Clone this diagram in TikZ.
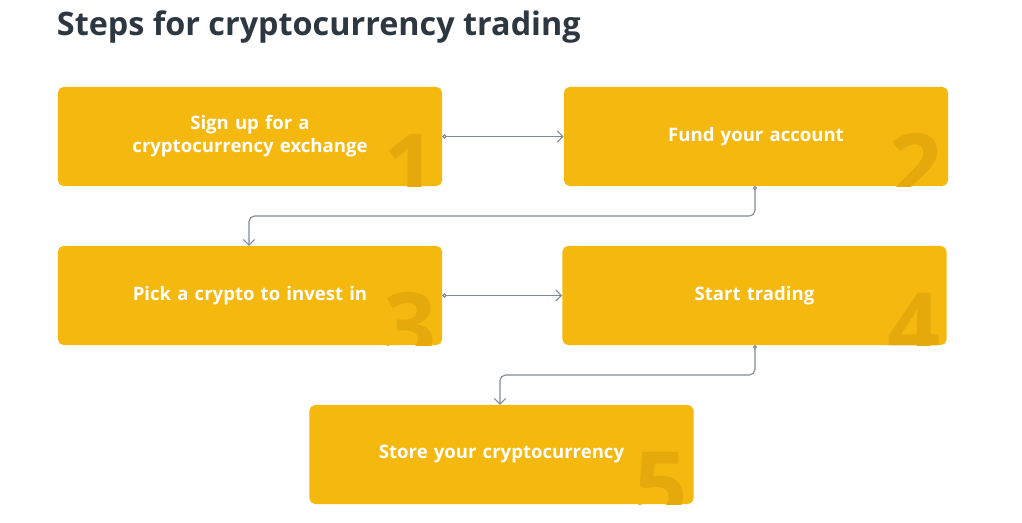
\documentclass[tikz,border=0pt]{standalone}
\usepackage{fontspec}
\setmainfont{Open Sans}
\usetikzlibrary{arrows.meta}
\hyphenpenalty=10000
\definecolor{gold}{RGB}{244,184,15}
\definecolor{golddark}{RGB}{228,170,12}
\definecolor{pfad}{RGB}{126,139,150}
\definecolor{titel}{RGB}{45,55,65}
\tikzset{
  stepbox/.style={fill=gold, rounded corners=4pt, minimum width=9.6cm, minimum height=2.475cm,
    text width=7.5cm, align=center, text=white, font=\bfseries\fontsize{13.2}{16.5}\selectfont},
  stepnum/.style={anchor=base east, text=golddark, inner sep=0pt, font=\bfseries\fontsize{66}{66}\selectfont},
  verbinder/.style={draw=pfad, thick, rounded corners=4pt, {Circle[open,fill=white,length=3pt]}-{Straight Barb[length=4pt]}}
}
\begin{document}
\begin{tikzpicture}[x=0.025cm, y=-0.025cm]
    \useasboundingbox (0,0) rectangle (1022,523);

    \node[anchor=west, text=titel, font=\bfseries\fontsize{23}{26}\selectfont] (title) at (52,27) {Steps for cryptocurrency trading};

    \foreach \n/\x/\y/\t in {1/250/136.5/{Sign up for a cryptocurrency exchange}, 2/756/136.5/{Fund your account},
        3/250/295.5/{Pick a crypto to invest in}, 4/754.5/295.5/{Start trading}, 5/501.5/454.5/{Store your cryptocurrency}}{
        \node[stepbox] (S\n) at (\x,\y) {};
        \begin{scope}
            \clip[rounded corners=4pt] (S\n.north west) rectangle (S\n.south east);
            \node[stepnum] (N\n) at ([shift={(-6,14)}]S\n.south east) {\n};
        \end{scope}
        \node[stepbox, fill=none] (T\n) at (S\n) {\t};
    }

    \draw[verbinder] (S1.east) -- (S2.west);
    \draw[verbinder] (S3.east) -- (S4.west);
    \draw[verbinder] (755,186) -- (755,216) -- (249,216) -- (249,246);
    \draw[verbinder] (755,345) -- (755,375) -- (500,375) -- (500,405);

\end{tikzpicture}
\end{document}
